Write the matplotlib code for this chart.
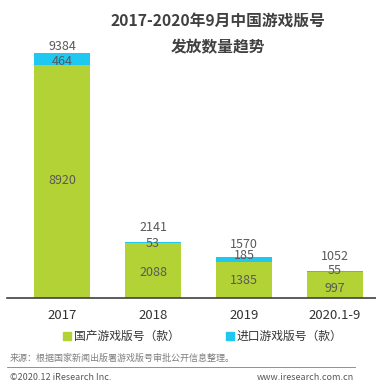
import matplotlib
matplotlib.use("Agg")
import matplotlib.pyplot as plt
from matplotlib.patches import Rectangle

plt.rcParams['font.family'] = ['Noto Sans CJK SC', 'DejaVu Sans']

years = ["2017", "2018", "2019", "2020.1-9"]
domestic = [8920, 2088, 1385, 997]
imported = [464, 53, 185, 55]
totals = [9384, 2141, 1570, 1052]

green = "#b2d235"
cyan = "#1ec8f0"
txt = "#595959"

W, H = 376, 384
fig = plt.figure(figsize=(W / 100, H / 100), dpi=100)

# axes: baseline at y=298px, top of tallest bar at y=53px
ax = fig.add_axes([7 / W, (H - 298) / H, 369 / W, 245 / H])
x = range(len(years))
ax.bar(x, domestic, width=0.615, color=green)
ax.bar(x, imported, bottom=domestic, width=0.615, color=cyan)
ax.set_xlim(-0.604, 3.45)
ax.set_ylim(0, 9384)

for s in ["top", "right", "left"]:
    ax.spines[s].set_visible(False)
ax.spines["bottom"].set_color("#404040")
ax.spines["bottom"].set_linewidth(1.2)
ax.set_yticks([])
ax.set_xticks(list(x))
ax.set_xticklabels(years, fontsize=9.5, color="#333333")
ax.tick_params(axis="x", length=0, pad=8)

# value labels, placed with pixel offsets
px = 9384 / 245
dom_y = [118, 26, 17, 9]      # height above baseline
imp_y = [4, 0, 6, 1]          # offset from top of green segment
tot_y = [7, 15, 13, 14]       # offset above the bar
for i in x:
    ax.text(i, dom_y[i] * px, str(domestic[i]),
            ha="center", va="center", fontsize=9, color=txt)
    ax.text(i, domestic[i] + imp_y[i] * px, str(imported[i]),
            ha="center", va="center", fontsize=9, color=txt, clip_on=False)
    ax.text(i, totals[i] + tot_y[i] * px, str(totals[i]),
            ha="center", va="center", fontsize=9, color=txt, clip_on=False)

# title
fig.text(218 / W, 1 - 22 / H, "2017-2020年9月中国游戏版号", ha="center", va="center",
         fontsize=11.3, fontweight="bold", color="#404040")
fig.text(218 / W, 1 - 47 / H, "发放数量趋势", ha="center", va="center",
         fontsize=11.3, fontweight="bold", color="#404040")

# legend
fig.add_artist(Rectangle((63 / W, 1 - 340 / H), 8 / W, 8 / H, color=green, transform=fig.transFigure))
fig.text(74 / W, 1 - 336 / H, "国产游戏版号（款）", ha="left", va="center", fontsize=8.5, color="#333333")
fig.add_artist(Rectangle((226 / W, 1 - 340 / H), 8 / W, 8 / H, color=cyan, transform=fig.transFigure))
fig.text(237 / W, 1 - 336 / H, "进口游戏版号（款）", ha="left", va="center", fontsize=8.5, color="#333333")

# footer
fig.text(10 / W, 1 - 358 / H, "来源：根据国家新闻出版署游戏版号审批公开信息整理。", ha="left", va="center",
         fontsize=6.5, color="#7f7f7f")
fig.add_artist(plt.Line2D([7 / W, 355 / W], [1 - 367 / H, 1 - 367 / H], color="#7f7f7f", lw=0.6,
                          transform=fig.transFigure))
fig.text(10 / W, 1 - 378 / H, "©2020.12 iResearch Inc.", ha="left", va="center", fontsize=6.5, color="#595959")
fig.text(354 / W, 1 - 378 / H, "www.iresearch.com.cn", ha="right", va="center", fontsize=6.5, color="#595959")

fig.savefig("out.png", dpi=100)
